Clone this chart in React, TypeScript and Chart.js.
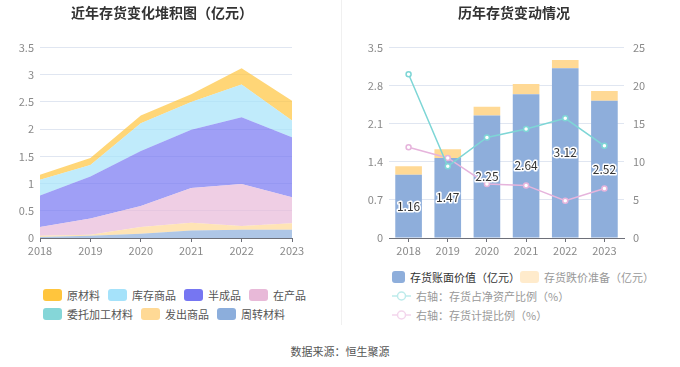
import React, { useEffect, useRef } from "react";
import { Chart, registerables } from "chart.js";
Chart.register(...registerables);

const FONT = '"Noto Sans CJK SC", "Noto Sans", sans-serif';

// ---- data ----
const years = ["2018", "2019", "2020", "2021", "2022", "2023"];
// left chart (stack bottom -> top)
const zhouZhuanCaiLiao = [0.02, 0.04, 0.08, 0.14, 0.15, 0.15]; // 周转材料
const weiTuoJiaGong = [0.0, 0.0, 0.0, 0.0, 0.0, 0.0]; // 委托加工材料
const faChuShangPin = [0.02, 0.02, 0.12, 0.14, 0.07, 0.12]; // 发出商品
const zaiChanPin = [0.16, 0.3, 0.39, 0.64, 0.77, 0.48]; // 在产品
const banChengPin = [0.58, 0.77, 1.01, 1.07, 1.23, 1.1]; // 半成品
const kuCunShangPin = [0.29, 0.21, 0.51, 0.51, 0.6, 0.31]; // 库存商品
const yuanCaiLiao = [0.09, 0.13, 0.14, 0.14, 0.3, 0.36]; // 原材料
const leftYTicks = [0, 0.5, 1, 1.5, 2, 2.5, 3, 3.5];

// right chart
const bookValue = [1.16, 1.47, 2.25, 2.64, 3.12, 2.52]; // 存货账面价值
const impairment = [0.16, 0.16, 0.16, 0.19, 0.15, 0.18]; // 存货跌价准备
const netAssetRatio = [21.5, 9.4, 13.2, 14.3, 15.7, 12.1]; // 存货占净资产比例
const provisionRatio = [11.9, 10.5, 7.1, 6.9, 4.9, 6.5]; // 存货计提比例
const rightYTicks = [0, 0.7, 1.4, 2.1, 2.8, 3.5];
const rightY1Ticks = [0, 5, 10, 15, 20, 25];

const C = {
  yuan: "#FFC53D",
  kucun: "#A5E2FA",
  ban: "#7676F2",
  zai: "#E8B9D8",
  wei: "#85D6D8",
  fachu: "#FFD995",
  zhou: "#8CAEDC",
};

function rgba(hex: string, a: number) {
  const n = parseInt(hex.slice(1), 16);
  return `rgba(${(n >> 16) & 255},${(n >> 8) & 255},${n & 255},${a})`;
}

const tickFont = { family: FONT, size: 11 };
const tickColor = "#8a8a8a";
const gridColor = "#E0E6F1";
const axisColor = "#6E7079";

function LeftChart() {
  const ref = useRef<HTMLCanvasElement>(null);
  useEffect(() => {
    const area = (label: string, data: number[], color: string, first: boolean) => ({
      label,
      data,
      backgroundColor: rgba(color, 0.7),
      borderColor: rgba(color, 0),
      borderWidth: 0,
      pointRadius: 0,
      fill: first ? "origin" : "-1",
      tension: 0,
    });
    const chart = new Chart(ref.current!, {
      type: "line",
      data: {
        labels: years,
        datasets: [
          area("周转材料", zhouZhuanCaiLiao, C.zhou, true),
          area("委托加工材料", weiTuoJiaGong, C.wei, false),
          area("发出商品", faChuShangPin, C.fachu, false),
          area("在产品", zaiChanPin, C.zai, false),
          area("半成品", banChengPin, C.ban, false),
          area("库存商品", kuCunShangPin, C.kucun, false),
          area("原材料", yuanCaiLiao, C.yuan, false),
        ] as any,
      },
      options: {
        responsive: false,
        animation: false,
        layout: { padding: { top: 47.5, right: 48, left: 0, bottom: 0 } },
        plugins: { legend: { display: false }, tooltip: { enabled: false } },
        scales: {
          x: {
            offset: false,
            grid: { drawOnChartArea: false, drawTicks: true, tickLength: 4, color: axisColor, offset: false },
            border: { color: axisColor },
            ticks: { font: tickFont, color: tickColor, padding: 2, maxRotation: 0 },
            afterFit: (s: any) => { s.height = 27; },
          },
          y: {
            stacked: true,
            min: 0,
            max: 3.5,
            afterBuildTicks: (s: any) => { s.ticks = leftYTicks.map((v) => ({ value: v })); },
            ticks: { font: tickFont, color: tickColor, padding: 6, callback: (v: any) => String(+(+v).toFixed(1)) },
            grid: { color: gridColor, drawTicks: false },
            border: { display: false },
            afterFit: (s: any) => { s.width = 40; },
          },
        },
      } as any,
    });
    return () => chart.destroy();
  }, []);
  return <canvas ref={ref} width={340} height={265} style={{ width: 340, height: 265, display: "block" }} />;
}

const barLabelPlugin = {
  id: "barLabels",
  afterDatasetsDraw(chart: any) {
    const meta = chart.getDatasetMeta(0);
    const ctx = chart.ctx;
    ctx.save();
    ctx.font = `12px ${FONT}`;
    ctx.textAlign = "center";
    ctx.textBaseline = "middle";
    meta.data.forEach((el: any, i: number) => {
      const p = el.getProps(["x", "y", "base"], true);
      const cy = (p.y + p.base) / 2;
      const t = bookValue[i].toFixed(2);
      ctx.lineWidth = 3;
      ctx.lineJoin = "round";
      ctx.strokeStyle = "#fff";
      ctx.strokeText(t, p.x, cy);
      ctx.fillStyle = "#333";
      ctx.fillText(t, p.x, cy);
    });
    ctx.restore();
  },
};

function RightChart() {
  const ref = useRef<HTMLCanvasElement>(null);
  useEffect(() => {
    const lineDs = (label: string, data: number[], color: string) => ({
      type: "line",
      label,
      data,
      yAxisID: "y1",
      borderColor: color,
      backgroundColor: "#fff",
      borderWidth: 1.5,
      pointRadius: 2.5,
      pointBorderWidth: 1.5,
      pointBackgroundColor: "#fff",
      pointBorderColor: color,
      fill: false,
      tension: 0,
      order: 0,
    });
    const chart = new Chart(ref.current!, {
      type: "bar",
      data: {
        labels: years,
        datasets: [
          {
            type: "bar",
            label: "存货账面价值（亿元）",
            data: bookValue,
            backgroundColor: "#8EAEDB",
            stack: "a",
            yAxisID: "y",
            barPercentage: 0.68,
            categoryPercentage: 1,
            order: 1,
          },
          {
            type: "bar",
            label: "存货跌价准备（亿元）",
            data: impairment,
            backgroundColor: "#FFD995",
            stack: "a",
            yAxisID: "y",
            barPercentage: 0.68,
            categoryPercentage: 1,
            order: 1,
          },
          lineDs("右轴：存货占净资产比例（%）", netAssetRatio, "#7ED6D6"),
          lineDs("右轴：存货计提比例（%）", provisionRatio, "#E6B4DC"),
        ] as any,
      },
      options: {
        responsive: false,
        animation: false,
        layout: { padding: { top: 47.5, right: 0, left: 0, bottom: 0 } },
        plugins: { legend: { display: false }, tooltip: { enabled: false } },
        scales: {
          x: {
            stacked: true,
            grid: { drawOnChartArea: false, drawTicks: true, tickLength: 4, color: axisColor, offset: false },
            border: { color: axisColor },
            ticks: { font: tickFont, color: tickColor, padding: 2, maxRotation: 0 },
            afterFit: (s: any) => { s.height = 27; },
          },
          y: {
            stacked: true,
            position: "left",
            min: 0,
            max: 3.5,
            afterBuildTicks: (s: any) => { s.ticks = rightYTicks.map((v) => ({ value: v })); },
            ticks: { font: tickFont, color: tickColor, padding: 6, callback: (v: any) => String(+(+v).toFixed(1)) },
            grid: { color: gridColor, drawTicks: false },
            border: { display: false },
            afterFit: (s: any) => { s.width = 49; },
          },
          y1: {
            position: "right",
            min: 0,
            max: 25,
            afterBuildTicks: (s: any) => { s.ticks = rightY1Ticks.map((v) => ({ value: v })); },
            ticks: { font: tickFont, color: tickColor, padding: 9 },
            grid: { drawOnChartArea: false, drawTicks: false },
            border: { display: false },
            afterFit: (s: any) => { s.width = 56; },
          },
        },
      } as any,
      plugins: [barLabelPlugin],
    });
    return () => chart.destroy();
  }, []);
  return <canvas ref={ref} width={340} height={265} style={{ width: 340, height: 265, display: "block" }} />;
}

function Swatch({ color, label, textColor = "#555" }: { color: string; label: string; textColor?: string }) {
  return (
    <div style={{ display: "flex", alignItems: "center", marginRight: 8 }}>
      <div style={{ width: 19, height: 12, borderRadius: 3, background: color, marginRight: 5 }} />
      <span style={{ fontSize: 11, color: textColor, whiteSpace: "nowrap" }}>{label}</span>
    </div>
  );
}

function LineIcon({ color, label }: { color: string; label: string }) {
  return (
    <div style={{ display: "flex", alignItems: "center" }}>
      <svg width={19} height={12} style={{ marginRight: 5 }}>
        <line x1={0} y1={6} x2={19} y2={6} stroke={color} strokeWidth={1.5} />
        <circle cx={9.5} cy={6} r={4} fill="#fff" stroke={color} strokeWidth={1.5} />
      </svg>
      <span style={{ fontSize: 11, color: "#999", whiteSpace: "nowrap" }}>{label}</span>
    </div>
  );
}

export default function App() {
  return (
    <div
      style={{
        position: "absolute",
        left: 0,
        top: 0,
        width: 680,
        height: 367,
        background: "#fff",
        overflow: "hidden",
        fontFamily: FONT,
      }}
    >
      <div style={{ position: "absolute", left: 0, top: 0 }}>
        <LeftChart />
      </div>
      <div style={{ position: "absolute", left: 340, top: 0 }}>
        <RightChart />
      </div>
      <div style={{ position: "absolute", left: 341, top: 0, width: 1, height: 325, background: "#F0F0F0" }} />
      <div style={{ position: "absolute", left: 0, width: 324, top: 2, textAlign: "center", fontSize: 14, fontWeight: 700, color: "#333", lineHeight: "20px" }}>
        近年存货变化堆积图（亿元）
      </div>
      <div style={{ position: "absolute", left: 340, width: 348, top: 2, textAlign: "center", fontSize: 14, fontWeight: 700, color: "#333", lineHeight: "20px" }}>
        历年存货变动情况
      </div>
      {/* left legend */}
      <div style={{ position: "absolute", left: 43, top: 287, display: "flex" }}>
        <Swatch color={C.yuan} label="原材料" />
        <Swatch color={C.kucun} label="库存商品" />
        <Swatch color={C.ban} label="半成品" />
        <Swatch color={C.zai} label="在产品" />
      </div>
      <div style={{ position: "absolute", left: 43, top: 306, display: "flex" }}>
        <Swatch color={C.wei} label="委托加工材料" />
        <Swatch color={C.fachu} label="发出商品" />
        <Swatch color={C.zhou} label="周转材料" />
      </div>
      {/* right legend */}
      <div style={{ position: "absolute", left: 392, top: 269, display: "flex" }}>
        <div style={{ display: "flex", alignItems: "center", width: 128 }}>
          <div style={{ width: 19, height: 12, borderRadius: 3, background: "#8EAEDB", marginRight: 5 }} />
          <span style={{ fontSize: 11, color: "#333", whiteSpace: "nowrap" }}>存货账面价值（亿元）</span>
        </div>
        <div style={{ display: "flex", alignItems: "center" }}>
          <div style={{ width: 19, height: 12, borderRadius: 3, background: "#FFEBCC", marginRight: 5 }} />
          <span style={{ fontSize: 11, color: "#999", whiteSpace: "nowrap" }}>存货跌价准备（亿元）</span>
        </div>
      </div>
      <div style={{ position: "absolute", left: 392, top: 288 }}>
        <LineIcon color="#BDEBEB" label="右轴：存货占净资产比例（%）" />
      </div>
      <div style={{ position: "absolute", left: 392, top: 307 }}>
        <LineIcon color="#F3D6EC" label="右轴：存货计提比例（%）" />
      </div>
      <div style={{ position: "absolute", left: 0, width: 680, top: 343, textAlign: "center", fontSize: 11, color: "#555", lineHeight: "16px" }}>
        数据来源：恒生聚源
      </div>
    </div>
  );
}
